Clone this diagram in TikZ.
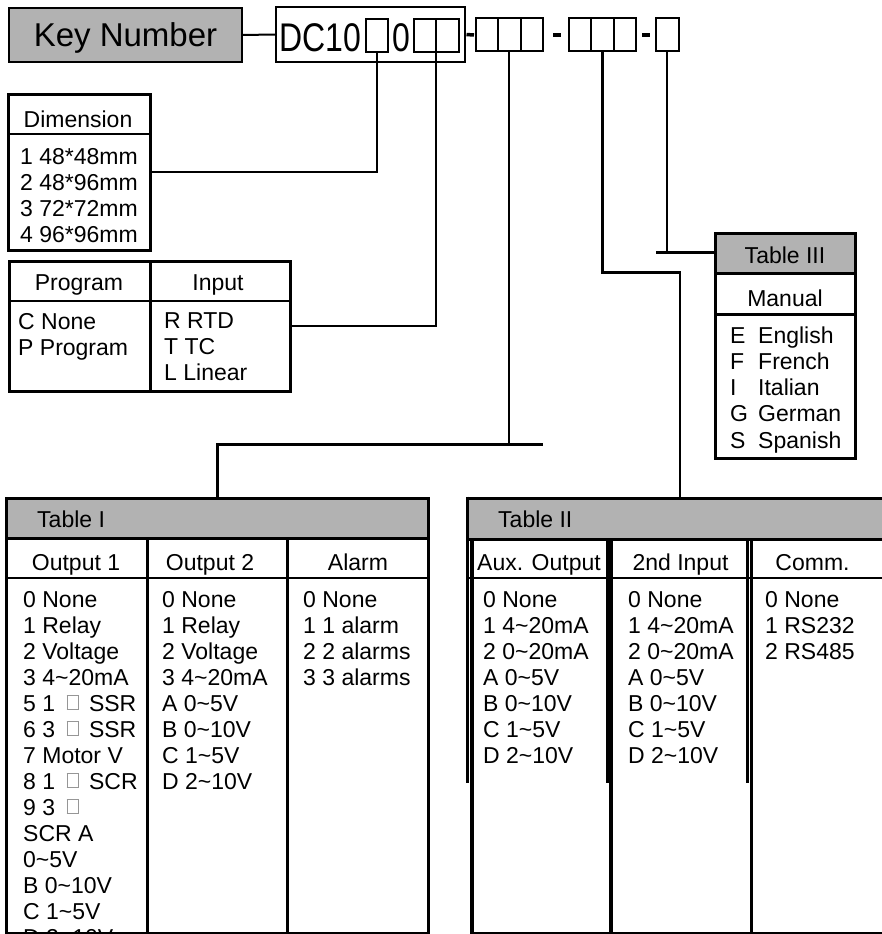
\documentclass[tikz,border=0pt]{standalone}
\usepackage{fontspec}
\setmainfont{Liberation Sans}
\usetikzlibrary{positioning}
\definecolor{keygray}{RGB}{178,178,178}
\definecolor{boxgray}{RGB}{150,150,150}
\newcommand{\tabfont}{\fontsize{23}{26}\selectfont}
\newcommand{\keyfont}{\fontsize{33}{38}\selectfont}
\newcommand{\tildechar}{\textasciitilde}
\newcommand{\gbox}{\hspace{5pt}{\color{boxgray}\setlength{\fboxsep}{0pt}\setlength{\fboxrule}{0.8pt}\raisebox{2pt}{\fbox{\rule{0pt}{13pt}\hspace{10.5pt}}}}\hspace{4pt}}
\tikzset{
    keybox/.style={draw, line width=2pt, inner sep=0pt, outer sep=0pt, anchor=north west},
    tabbox/.style={draw, line width=3pt, inner sep=0pt, outer sep=0pt, anchor=north west},
    slot/.style={draw, line width=2pt, minimum width=22.5, minimum height=33, inner sep=0pt, outer sep=0pt},
    hd/.style={fill=keygray, inner sep=0pt, outer sep=0pt, anchor=north west},
    frame/.style={line width=3pt},
    rulel/.style={line width=2pt},
    wire/.style={line width=2.3pt},
    hyph/.style={line width=3.5pt},
    txt/.style={font=\tabfont, inner sep=0pt, anchor=base west},
    ctxt/.style={font=\tabfont, inner sep=0pt, anchor=base},
}
\begin{document}
\begin{tikzpicture}[x=1pt, y=-1pt]
    \clip (0,0) rectangle (882,934);
    % key number and code
    \node[keybox, fill=keygray, minimum width=233, minimum height=54] (keynum) at (9,8) {};
    \node[font=\keyfont, inner sep=0pt, anchor=base] (keytxt) at (125.5,47) {Key Number};
    \node[keybox, minimum width=189, minimum height=55] (dcbox) at (275.5,7) {};
    \node[font=\fontsize{32}{38}\selectfont, inner sep=0pt, anchor=base west] (dctxt) at (279,51.5) {\scalebox{1}[1.25]{DC10}};
    \node[font=\fontsize{32}{38}\selectfont, inner sep=0pt, anchor=base west] (zerotxt) at (392,51.5) {\scalebox{1}[1.25]{0}};
    \node[slot, anchor=north west] (s1) at (365.5,19.5) {};
    \node[slot, anchor=north west] (s2) at (413.5,19.5) {};
    \node[slot, right=0pt of s2] (s3) {};
    \node[slot, anchor=north west] (a1) at (475.5,18.5) {};
    \node[slot, right=0pt of a1] (a2) {};
    \node[slot, right=0pt of a2] (a3) {};
    \node[slot, anchor=north west] (b1) at (568.8,18.5) {};
    \node[slot, right=0pt of b1] (b2) {};
    \node[slot, right=0pt of b2] (b3) {};
    \node[slot, anchor=north west] (c1) at (656,18.5) {};
    \draw[rulel] (keynum.east) -- (dcbox.west);
    \draw[hyph, shorten <=2pt, shorten >=1.5pt] (dcbox.east) -- (a1.west);
    \draw[hyph, shorten <=10pt, shorten >=8pt] (a3.east) -- (b1.west);
    \draw[hyph, shorten <=5.7pt, shorten >=6pt] (b3.east) -- (c1.west);

    % dimension
    \node[tabbox, minimum width=141.8, minimum height=156.5] (dim) at (8.7,94) {};
    \draw[rulel] (dim.west |- 0,134) -- (dim.east |- 0,134);
    \node[ctxt] (dimhd) at (78,127) {Dimension};
    \foreach \t [count=\i from 0] in {1 48*48mm, 2 48*96mm, 3 72*72mm, 4 96*96mm}
        \node[txt] (dim\i) at (20,{164+26*\i}) {\t};

    % program / input
    \node[tabbox, minimum width=281.3, minimum height=130] (pgm) at (9.5,261.3) {};
    \draw[line width=3.5pt] (pgm.north west -| 150.3,0) -- (pgm.south west -| 150.3,0);
    \draw[rulel] (pgm.west |- 0,301.3) -- (pgm.east |- 0,301.3);
    \node[ctxt] (pgmhd) at (79,290) {Program};
    \node[ctxt] (inhd) at (218,290) {Input};
    \foreach \t [count=\i from 0] in {C None, P Program}
        \node[txt] (pg\i) at (18,{329+26*\i}) {\t};
    \foreach \t [count=\i from 0] in {R RTD, T TC, L Linear}
        \node[txt] (in\i) at (164,{328+26*\i}) {\t};

    % table III
    \node[hd, minimum width=140, minimum height=40] (t3head) at (715,233.5) {};
    \node[tabbox, minimum width=140, minimum height=225] (t3) at (715,233.5) {};
    \draw[frame] (t3.west |- 0,273.5) -- (t3.east |- 0,273.5);
    \draw[line width=2.5pt] (t3.west |- 0,314.5) -- (t3.east |- 0,314.5);
    \node[ctxt] (t3title) at (785,263) {Table III};
    \node[ctxt] (t3col) at (785,306) {Manual};
    \foreach \l/\w [count=\i from 0] in {E/English, F/French, I/Italian, G/German, S/Spanish} {
        \node[txt] (t3l\i) at (730,{343+26.25*\i}) {\l};
        \node[txt] (t3w\i) at (758,{343+26.25*\i}) {\w};
    }

    % table I
    \node[hd, minimum width=422, minimum height=40] (tab1) at (6.5,498.5) {};
    \node[tabbox, minimum width=422, minimum height=434.5] (tab1box) at (6.5,498.5) {};
    \draw[frame] (tab1box.west |- 0,538.5) -- (tab1box.east |- 0,538.5);
    \draw[rulel] (tab1box.west |- 0,578) -- (tab1box.east |- 0,578);
    \draw[frame] (147.5,538.5) -- (147.5,933);
    \draw[frame] (287.5,538.5) -- (287.5,933);
    \node[txt] (tab1title) at (37,527) {Table I};
    \node[ctxt] (o1hd) at (76,570) {Output 1};
    \node[ctxt] (o2hd) at (210,570) {Output 2};
    \node[ctxt] (alhd) at (358,570) {Alarm};
    \foreach \t [count=\i from 0] in {0 None, 1 Relay, 2 Voltage, 3 4\tildechar 20mA, 5 1 \gbox{} SSR, 6 3 \gbox{} SSR, 7 Motor V, 8 1 \gbox{} SCR, 9 3 \gbox, SCR A, 0\tildechar 5V, B 0\tildechar 10V, C 1\tildechar 5V, D 2\tildechar 10V}
        \node[txt] (o1-\i) at (23,{607+26*\i}) {\t};
    \foreach \t [count=\i from 0] in {0 None, 1 Relay, 2 Voltage, 3 4\tildechar 20mA, A 0\tildechar 5V, B 0\tildechar 10V, C 1\tildechar 5V, D 2\tildechar 10V}
        \node[txt] (o2-\i) at (162,{607+26*\i}) {\t};
    \foreach \t [count=\i from 0] in {0 None, 1 1 alarm, 2 2 alarms, 3 3 alarms}
        \node[txt] (al-\i) at (303,{607+26*\i}) {\t};

    % table II
    \node[hd, minimum width=424, minimum height=41] (tab2) at (468,498) {};
    \draw[frame] (466.5,498) -- (890,498);
    \draw[frame] (466.5,539) -- (890,539);
    \draw[rulel] (466.5,578) -- (890,578);
    \draw[rulel] (470,933) -- (890,933);
    \draw[frame] (467.5,496.5) -- (467.5,783);
    \foreach \x in {471.8, 611, 751.5}
        \draw[line width=3.5pt] (\x,539) -- (\x,933);
    \foreach \x in {607, 747.5}
        \draw[frame] (\x,539) -- (\x,783);
    \node[txt] (tab2title) at (498,527) {Table II};
    \node[ctxt] (auxhd) at (539,570) {Aux. Output};
    \node[ctxt] (in2hd) at (680.5,570) {2nd Input};
    \node[ctxt] (comhd) at (812.5,570) {Comm.};
    \foreach \t [count=\i from 0] in {0 None, 1 4\tildechar 20mA, 2 0\tildechar 20mA, A 0\tildechar 5V, B 0\tildechar 10V, C 1\tildechar 5V, D 2\tildechar 10V} {
        \node[txt] (aux-\i) at (483,{607+26*\i}) {\t};
        \node[txt] (in2-\i) at (628,{607+26*\i}) {\t};
    }
    \foreach \t [count=\i from 0] in {0 None, 1 RS232, 2 RS485}
        \node[txt] (com-\i) at (765,{607+26*\i}) {\t};

    % connectors
    \draw[wire] (s1.south) |- (dim.east);
    \draw[wire] (s2.south east) |- (pgm.east);
    \coordinate (tee1) at (543.3,444.5);
    \draw[wire] (tab1box.north) |- (tee1);
    \draw[wire] (a2.south) -- (a2.south |- tee1);
    \coordinate (bend2) at (680.3,272.5);
    \draw[wire] (b2.south) |- (bend2) -- (bend2 |- tab2.north);
    \coordinate (tee3) at (656,252.5);
    \draw[wire] (tee3) -- (tee3 -| t3head.west);
    \draw[wire] (c1.south) -- (c1.south |- tee3);
\end{tikzpicture}
\end{document}
